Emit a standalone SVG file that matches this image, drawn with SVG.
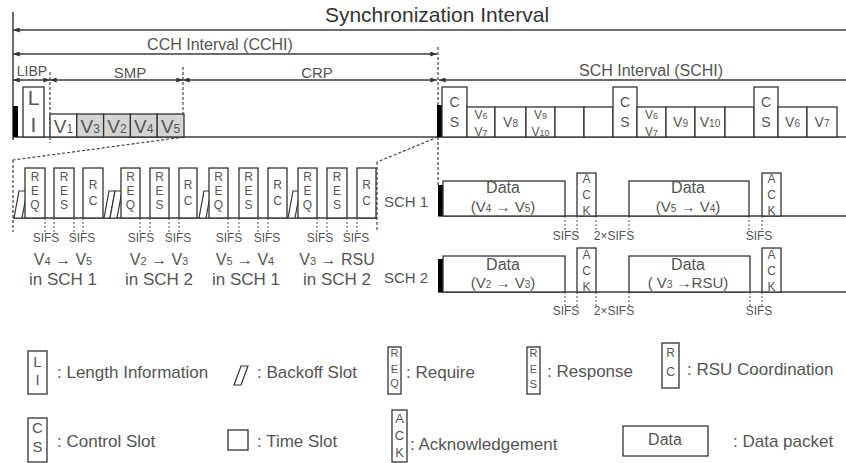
<svg xmlns="http://www.w3.org/2000/svg" width="846" height="463" viewBox="0 0 846 463">
<defs>
<marker id="ah" viewBox="0 0 8 6" refX="8" refY="3" markerWidth="7" markerHeight="5" orient="auto-start-reverse" markerUnits="userSpaceOnUse"><path d="M0,0 L8,3 L0,6 z" fill="#333"/></marker>
</defs>
<style>
.ln{stroke:#3c3c3c;stroke-width:1.5;fill:none}
.bx{stroke:#333;stroke-width:1.3;fill:#fff}
.gb{stroke:#333;stroke-width:1.3;fill:#d4d4d4}
.ds{stroke:#444;stroke-width:1.2;fill:none;stroke-dasharray:3 2}
.sd{stroke:#555;stroke-width:1;fill:none;stroke-dasharray:2 2}
.bk{stroke:#333;stroke-width:1.2;fill:#fff}
text{font-family:"Liberation Sans",Arial,sans-serif;fill:#555}
.m{text-anchor:middle}
.h{fill:#333}
.l11{font-size:11px}
.l12{font-size:12px}
.l14{font-size:14px}
.lg{font-size:17px}
</style>

<g id="connectors">
<line class="ln" x1="13" y1="12" x2="13" y2="140"/>
<line class="ln" x1="13" y1="30" x2="846" y2="30" marker-start="url(#ah)"/>
<line class="ln" x1="13" y1="54" x2="437" y2="54" marker-start="url(#ah)" marker-end="url(#ah)"/>
<line class="ln" x1="13" y1="80" x2="50" y2="80" marker-start="url(#ah)" marker-end="url(#ah)"/>
<line class="ln" x1="50" y1="80" x2="183" y2="80" marker-start="url(#ah)" marker-end="url(#ah)"/>
<line class="ln" x1="183" y1="80" x2="437" y2="80" marker-start="url(#ah)" marker-end="url(#ah)"/>
<line class="ln" x1="439" y1="80" x2="846" y2="80" marker-start="url(#ah)"/>
<line class="ds" x1="50" y1="72" x2="50" y2="143"/>
<line class="ds" x1="183" y1="67" x2="183" y2="137"/>
<line class="ds" x1="438" y1="47" x2="438" y2="185"/>
<line class="ln" x1="13" y1="137" x2="846" y2="137"/>
<line class="ds" x1="184" y1="137" x2="13" y2="160"/>
<line class="ds" x1="438" y1="137" x2="377" y2="162"/>
<line class="ds" x1="13" y1="160" x2="13" y2="232"/>
<line class="ds" x1="377" y1="162" x2="377" y2="232"/>
<line class="ln" x1="13" y1="218" x2="377" y2="218"/>
<line class="ln" x1="438" y1="216" x2="846" y2="216"/>
<line class="ln" x1="438" y1="292" x2="846" y2="292"/>
<g class="sd">
<line x1="45" y1="218" x2="45" y2="232"/><line x1="54" y1="218" x2="54" y2="232"/><line x1="74" y1="218" x2="74" y2="232"/><line x1="83" y1="218" x2="83" y2="232"/>
<line x1="140" y1="218" x2="140" y2="232"/><line x1="150" y1="218" x2="150" y2="232"/><line x1="169" y1="218" x2="169" y2="232"/><line x1="179" y1="218" x2="179" y2="232"/>
<line x1="228" y1="218" x2="228" y2="232"/><line x1="239" y1="218" x2="239" y2="232"/><line x1="258" y1="218" x2="258" y2="232"/><line x1="268" y1="218" x2="268" y2="232"/>
<line x1="317" y1="218" x2="317" y2="232"/><line x1="327" y1="218" x2="327" y2="232"/><line x1="347" y1="218" x2="347" y2="232"/><line x1="357" y1="218" x2="357" y2="232"/>
<line x1="565" y1="216" x2="565" y2="230"/><line x1="577" y1="216" x2="577" y2="230"/><line x1="596" y1="216" x2="596" y2="230"/><line x1="629" y1="216" x2="629" y2="230"/><line x1="749" y1="216" x2="749" y2="230"/><line x1="762" y1="216" x2="762" y2="230"/>
<line x1="565" y1="292" x2="565" y2="306"/><line x1="577" y1="292" x2="577" y2="306"/><line x1="596" y1="292" x2="596" y2="306"/><line x1="629" y1="292" x2="629" y2="306"/><line x1="750" y1="292" x2="750" y2="306"/><line x1="762" y1="292" x2="762" y2="306"/>
</g>
</g>

<g id="interval-labels">
<text class="m h" x="437" y="22" font-size="21">Synchronization Interval</text>
<text class="m" x="220" y="50" font-size="16">CCH Interval (CCHI)</text>
<text class="m" x="32" y="76" font-size="14">LIBP</text>
<text class="m" x="130" y="78" font-size="15">SMP</text>
<text class="m" x="317" y="78" font-size="15">CRP</text>
<text class="m" x="651" y="76" font-size="16">SCH Interval (SCHI)</text>
</g>

<g id="cch-top">
<rect x="13" y="106" width="5" height="31" fill="#000"/>
<g id="li"><rect class="bx" x="23" y="87" width="21" height="50"/><text class="m" x="33.5" y="105" font-size="21">L</text><text class="m" x="33.5" y="132" font-size="21">I</text></g>
<g id="v1"><rect class="bx" x="50" y="114" width="26.8" height="23"/><text class="m" x="63.4" y="133" font-size="19">V<tspan font-size="12">1</tspan></text></g>
<g id="v3"><rect class="gb" x="76.8" y="114" width="26.8" height="23"/><text class="m" x="90.2" y="133" font-size="19">V<tspan font-size="12">3</tspan></text></g>
<g id="v2"><rect class="gb" x="103.6" y="114" width="26.8" height="23"/><text class="m" x="117" y="133" font-size="19">V<tspan font-size="12">2</tspan></text></g>
<g id="v4"><rect class="gb" x="130.4" y="114" width="26.8" height="23"/><text class="m" x="143.8" y="133" font-size="19">V<tspan font-size="12">4</tspan></text></g>
<g id="v5"><rect class="gb" x="157.2" y="114" width="26.8" height="23"/><text class="m" x="170.6" y="133" font-size="19">V<tspan font-size="12">5</tspan></text></g>
</g>

<g id="sch-top">
<rect x="437" y="105" width="5" height="32" fill="#000"/>
<g id="cs1"><rect class="bx" x="442" y="87" width="25" height="50"/><text class="m l14" x="454.5" y="107">C</text><text class="m l14" x="454.5" y="127">S</text></g>
<g id="s1"><rect class="bx" x="467" y="107" width="28" height="30"/><text class="m" x="481" y="119" font-size="12">V<tspan font-size="9">6</tspan></text><text class="m" x="481" y="136" font-size="12">V<tspan font-size="9">7</tspan></text></g>
<g id="s2"><rect class="bx" x="495" y="107" width="31" height="30"/><text class="m" x="510.5" y="127" font-size="14">V<tspan font-size="10">8</tspan></text></g>
<g id="s3"><rect class="bx" x="526" y="107" width="29" height="30"/><text class="m" x="540.5" y="119" font-size="12">V<tspan font-size="9">9</tspan></text><text class="m" x="540.5" y="136" font-size="12">V<tspan font-size="9">10</tspan></text></g>
<g id="s4"><rect class="bx" x="555" y="107" width="29" height="30"/></g>
<g id="s5"><rect class="bx" x="584" y="107" width="29" height="30"/></g>
<g id="cs2"><rect class="bx" x="613" y="87" width="24" height="50"/><text class="m l14" x="625" y="107">C</text><text class="m l14" x="625" y="127">S</text></g>
<g id="s6"><rect class="bx" x="637" y="107" width="29" height="30"/><text class="m" x="651.5" y="119" font-size="12">V<tspan font-size="9">6</tspan></text><text class="m" x="651.5" y="136" font-size="12">V<tspan font-size="9">7</tspan></text></g>
<g id="s7"><rect class="bx" x="666" y="107" width="29" height="30"/><text class="m" x="680.5" y="127" font-size="14">V<tspan font-size="10">9</tspan></text></g>
<g id="s8"><rect class="bx" x="695" y="107" width="30" height="30"/><text class="m" x="710" y="127" font-size="14">V<tspan font-size="10">10</tspan></text></g>
<g id="s9"><rect class="bx" x="725" y="107" width="29" height="30"/></g>
<g id="cs3"><rect class="bx" x="754" y="87" width="24" height="50"/><text class="m l14" x="766" y="107">C</text><text class="m l14" x="766" y="127">S</text></g>
<g id="s10"><rect class="bx" x="778" y="107" width="29" height="30"/><text class="m" x="792.5" y="127" font-size="14">V<tspan font-size="10">6</tspan></text></g>
<g id="s11"><rect class="bx" x="807" y="107" width="30" height="30"/><text class="m" x="822" y="127" font-size="14">V<tspan font-size="10">7</tspan></text></g>
</g>

<g id="crp-detail">
<polygon class="bk" points="14,218 19,191 27,191 22,218"/>
<g id="req1"><rect class="bx" x="25" y="168" width="20" height="50"/><text class="m l12" x="35" y="181">R</text><text class="m l12" x="35" y="195">E</text><text class="m l12" x="35" y="209">Q</text></g>
<g id="res1"><rect class="bx" x="54" y="168" width="20" height="50"/><text class="m l12" x="64" y="181">R</text><text class="m l12" x="64" y="195">E</text><text class="m l12" x="64" y="209">S</text></g>
<g id="rc1"><rect class="bx" x="83" y="168" width="20" height="50"/><text class="m l12" x="93" y="189">R</text><text class="m l12" x="93" y="205">C</text></g>
<polygon class="bk" points="104,218 109,191 115,191 110,218"/>
<polygon class="bk" points="110,218 115,191 122,191 117,218"/>
<g id="req2"><rect class="bx" x="121" y="168" width="19" height="50"/><text class="m l12" x="130.5" y="181">R</text><text class="m l12" x="130.5" y="195">E</text><text class="m l12" x="130.5" y="209">Q</text></g>
<g id="res2"><rect class="bx" x="150" y="168" width="19" height="50"/><text class="m l12" x="159.5" y="181">R</text><text class="m l12" x="159.5" y="195">E</text><text class="m l12" x="159.5" y="209">S</text></g>
<g id="rc2"><rect class="bx" x="179" y="168" width="18" height="50"/><text class="m l12" x="188" y="189">R</text><text class="m l12" x="188" y="205">C</text></g>
<polygon class="bk" points="199,218 204,191 211,191 206,218"/>
<g id="req3"><rect class="bx" x="209" y="168" width="19" height="50"/><text class="m l12" x="218.5" y="181">R</text><text class="m l12" x="218.5" y="195">E</text><text class="m l12" x="218.5" y="209">Q</text></g>
<g id="res3"><rect class="bx" x="239" y="168" width="19" height="50"/><text class="m l12" x="248.5" y="181">R</text><text class="m l12" x="248.5" y="195">E</text><text class="m l12" x="248.5" y="209">S</text></g>
<g id="rc3"><rect class="bx" x="268" y="168" width="19" height="50"/><text class="m l12" x="277.5" y="189">R</text><text class="m l12" x="277.5" y="205">C</text></g>
<polygon class="bk" points="288,218 293,191 300,191 295,218"/>
<g id="req4"><rect class="bx" x="298" y="168" width="19" height="50"/><text class="m l12" x="307.5" y="181">R</text><text class="m l12" x="307.5" y="195">E</text><text class="m l12" x="307.5" y="209">Q</text></g>
<g id="res4"><rect class="bx" x="327" y="168" width="20" height="50"/><text class="m l12" x="337" y="181">R</text><text class="m l12" x="337" y="195">E</text><text class="m l12" x="337" y="209">S</text></g>
<g id="rc4"><rect class="bx" x="357" y="168" width="19" height="50"/><text class="m l12" x="366.5" y="189">R</text><text class="m l12" x="366.5" y="205">C</text></g>
<g class="l12">
<text class="m" x="46" y="242">SIFS</text><text class="m" x="82" y="242">SIFS</text>
<text class="m" x="141" y="242">SIFS</text><text class="m" x="178" y="242">SIFS</text>
<text class="m" x="229" y="242">SIFS</text><text class="m" x="267" y="242">SIFS</text>
<text class="m" x="320" y="242">SIFS</text><text class="m" x="356" y="242">SIFS</text>
</g>
<g font-size="16">
<text class="m" x="63" y="265">V<tspan font-size="11">4</tspan> → V<tspan font-size="11">5</tspan></text>
<text class="m" x="63" y="285" font-size="17">in SCH 1</text>
<text class="m" x="159" y="265">V<tspan font-size="11">2</tspan> → V<tspan font-size="11">3</tspan></text>
<text class="m" x="159" y="285" font-size="17">in SCH 2</text>
<text class="m" x="245" y="265">V<tspan font-size="11">5</tspan> → V<tspan font-size="11">4</tspan></text>
<text class="m" x="246" y="285" font-size="17">in SCH 1</text>
<text class="m" x="337" y="265">V<tspan font-size="11">3</tspan> → RSU</text>
<text class="m" x="337" y="285" font-size="17">in SCH 2</text>
</g>
</g>

<g id="sch1">
<text class="m" x="406" y="207" font-size="15">SCH 1</text>
<rect x="438" y="185" width="5" height="31" fill="#000"/>
<g id="data1"><rect class="bx" x="443" y="181" width="122" height="35"/><text class="m" x="503" y="193" font-size="16">Data</text><text class="m" x="503" y="212" font-size="15">(V<tspan font-size="10">4</tspan> → V<tspan font-size="10">5</tspan>)</text></g>
<g id="ack1"><rect class="bx" x="577" y="173" width="19" height="43"/><text class="m l12" x="586.5" y="183">A</text><text class="m l12" x="586.5" y="199">C</text><text class="m l12" x="586.5" y="215">K</text></g>
<g id="data2"><rect class="bx" x="629" y="181" width="120" height="35"/><text class="m" x="688" y="193" font-size="16">Data</text><text class="m" x="688" y="212" font-size="15">(V<tspan font-size="10">5</tspan> → V<tspan font-size="10">4</tspan>)</text></g>
<g id="ack2"><rect class="bx" x="762" y="173" width="19" height="43"/><text class="m l12" x="771.5" y="183">A</text><text class="m l12" x="771.5" y="199">C</text><text class="m l12" x="771.5" y="215">K</text></g>
<text class="m l12" x="566" y="240">SIFS</text>
<text class="m l12" x="614" y="240">2×SIFS</text>
<text class="m l12" x="759" y="240">SIFS</text>
</g>

<g id="sch2">
<text class="m" x="406" y="283" font-size="15">SCH 2</text>
<rect x="438" y="259" width="5" height="33" fill="#000"/>
<g id="data3"><rect class="bx" x="443" y="256" width="122" height="36"/><text class="m" x="503" y="270" font-size="16">Data</text><text class="m" x="503" y="288" font-size="15">(V<tspan font-size="10">2</tspan> → V<tspan font-size="10">3</tspan>)</text></g>
<g id="ack3"><rect class="bx" x="577" y="248" width="19" height="44"/><text class="m l12" x="586.5" y="259">A</text><text class="m l12" x="586.5" y="275">C</text><text class="m l12" x="586.5" y="291">K</text></g>
<g id="data4"><rect class="bx" x="629" y="256" width="121" height="36"/><text class="m" x="688" y="270" font-size="16">Data</text><text class="m" x="688" y="288" font-size="15">( V<tspan font-size="10">3</tspan> →RSU)</text></g>
<g id="ack4"><rect class="bx" x="762" y="248" width="19" height="44"/><text class="m l12" x="771.5" y="259">A</text><text class="m l12" x="771.5" y="275">C</text><text class="m l12" x="771.5" y="291">K</text></g>
<text class="m l12" x="566" y="315">SIFS</text>
<text class="m l12" x="614" y="315">2×SIFS</text>
<text class="m l12" x="759" y="315">SIFS</text>
</g>

<g id="legend">
<g id="lg-li"><rect class="bx" x="28" y="351" width="19" height="43"/><text class="m" x="37.5" y="367" font-size="15">L</text><text class="m" x="37.5" y="385" font-size="15">I</text><text class="lg" x="57" y="378">: Length Information</text></g>
<g id="lg-bo"><polygon class="bk" points="234,385 241,366 248,366 241,385"/><text class="lg" x="257" y="378">: Backoff Slot</text></g>
<g id="lg-req"><rect class="bx" x="388" y="347" width="13" height="47"/><text class="m l11" x="394.5" y="357">R</text><text class="m l11" x="394.5" y="373">E</text><text class="m l11" x="394.5" y="387">Q</text><text class="lg" x="406" y="378">: Require</text></g>
<g id="lg-res"><rect class="bx" x="527" y="347" width="13" height="47"/><text class="m l11" x="533.5" y="357">R</text><text class="m l11" x="533.5" y="373">E</text><text class="m l11" x="533.5" y="388">S</text><text class="lg" x="547" y="377">: Response</text></g>
<g id="lg-rc"><rect class="bx" x="662" y="343" width="17" height="45"/><text class="m l12" x="670.5" y="357">R</text><text class="m l12" x="670.5" y="376">C</text><text class="lg" x="687" y="375">: RSU Coordination</text></g>
<g id="lg-cs"><rect class="bx" x="28" y="418" width="19" height="44"/><text class="m" x="37.5" y="433" font-size="15">C</text><text class="m" x="37.5" y="452" font-size="15">S</text><text class="lg" x="57" y="447">: Control Slot</text></g>
<g id="lg-ts"><rect class="bx" x="228" y="430" width="20" height="20"/><text class="lg" x="257" y="447">: Time Slot</text></g>
<g id="lg-ack"><rect class="bx" x="392" y="410" width="15" height="52"/><text class="m" x="399.5" y="423" font-size="13">A</text><text class="m" x="399.5" y="440" font-size="13">C</text><text class="m" x="399.5" y="457" font-size="13">K</text><text class="lg" x="410" y="450">: Acknowledgement</text></g>
<g id="lg-data"><rect class="bx" x="623" y="426" width="85" height="30"/><text class="m" x="665" y="445" font-size="16">Data</text><text class="lg" x="733" y="447">: Data packet</text></g>
</g>
</svg>
